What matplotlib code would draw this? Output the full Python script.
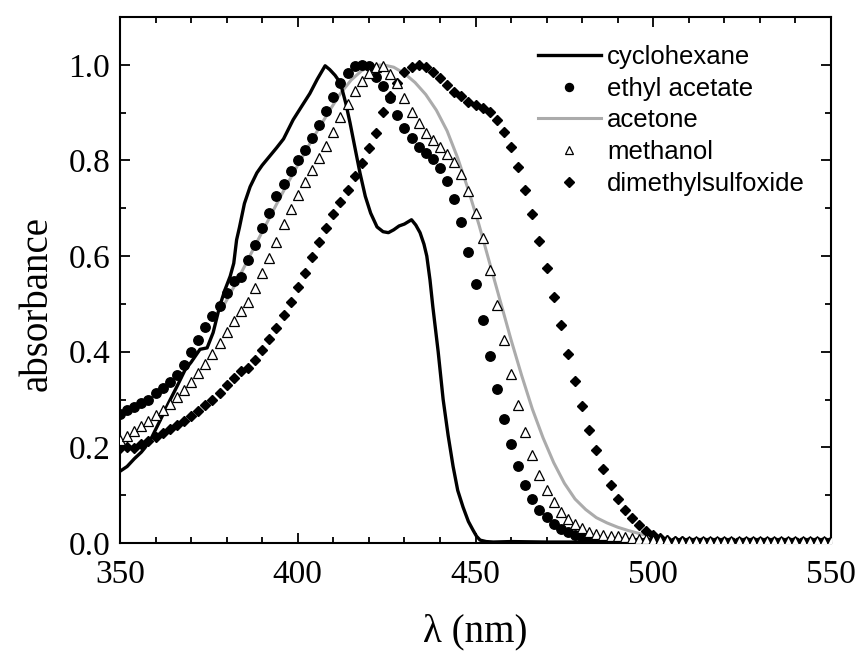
import numpy as np
import matplotlib
matplotlib.use("Agg")
import matplotlib.pyplot as plt
from matplotlib.ticker import MultipleLocator

# ---------------- data ----------------
wl = np.arange(350, 551, 2)

ethyl_acetate = [
    0.270, 0.278, 0.285, 0.292, 0.300, 0.313, 0.325, 0.336, 0.352, 0.372, 0.400, 0.425, 0.451,
    0.474, 0.496, 0.522, 0.548, 0.557, 0.592, 0.623, 0.658, 0.691, 0.725, 0.751, 0.777,
    0.800, 0.822, 0.848, 0.874, 0.904, 0.932, 0.962, 0.983, 0.998, 1.000, 0.998, 0.975, 0.955,
    0.930, 0.895, 0.868, 0.847, 0.829, 0.815, 0.803, 0.784, 0.758, 0.720, 0.672, 0.609,
    0.542, 0.467, 0.391, 0.323, 0.260, 0.206, 0.160, 0.122, 0.091, 0.070, 0.054, 0.040, 0.029,
    0.022, 0.017, 0.012, 0.008, 0.006, 0.005, 0.004, 0.004, 0.003, 0.003, 0.003, 0.003,
    0.003, 0.003, 0.002, 0.002, 0.002, 0.002, 0.002, 0.002, 0.002, 0.002, 0.002, 0.002, 0.002,
    0.002, 0.002, 0.002, 0.002, 0.002, 0.002, 0.002, 0.002, 0.002, 0.002, 0.002, 0.002, 0.002,
]

methanol = [
    0.215, 0.224, 0.234, 0.245, 0.256, 0.267, 0.278, 0.291, 0.305, 0.320, 0.337, 0.356, 0.375,
    0.395, 0.418, 0.442, 0.465, 0.485, 0.503, 0.533, 0.564, 0.597, 0.630, 0.667, 0.698,
    0.728, 0.754, 0.780, 0.805, 0.831, 0.860, 0.890, 0.918, 0.946, 0.967, 0.983, 0.995, 0.998,
    0.981, 0.962, 0.930, 0.902, 0.878, 0.858, 0.842, 0.828, 0.814, 0.796, 0.771, 0.737,
    0.691, 0.637, 0.570, 0.498, 0.425, 0.353, 0.289, 0.232, 0.184, 0.143, 0.111, 0.085, 0.065,
    0.051, 0.040, 0.031, 0.024, 0.019, 0.017, 0.015, 0.014, 0.012, 0.010, 0.009, 0.008,
    0.007, 0.006, 0.006, 0.005, 0.005, 0.005, 0.005, 0.005, 0.005, 0.005, 0.004, 0.004, 0.004,
    0.004, 0.004, 0.004, 0.004, 0.004, 0.004, 0.004, 0.004, 0.004, 0.004, 0.004, 0.004, 0.004,
]

dimethylsulfoxide = [
    0.198, 0.200, 0.199, 0.206, 0.214, 0.222, 0.230, 0.238, 0.247, 0.256, 0.266, 0.277, 0.288,
    0.300, 0.313, 0.330, 0.345, 0.360, 0.365, 0.382, 0.403, 0.427, 0.450, 0.477, 0.504,
    0.535, 0.564, 0.598, 0.629, 0.658, 0.689, 0.714, 0.739, 0.767, 0.794, 0.826, 0.857, 0.902,
    0.935, 0.963, 0.985, 0.996, 1.000, 0.996, 0.986, 0.972, 0.958, 0.944, 0.934, 0.923,
    0.916, 0.909, 0.901, 0.884, 0.860, 0.828, 0.787, 0.739, 0.688, 0.632, 0.575, 0.515, 0.455,
    0.396, 0.339, 0.287, 0.237, 0.194, 0.155, 0.122, 0.093, 0.070, 0.052, 0.037, 0.026,
    0.017, 0.011, 0.007, 0.005, 0.004, 0.003, 0.003, 0.003, 0.003, 0.003, 0.003, 0.003, 0.003,
    0.003, 0.003, 0.003, 0.003, 0.003, 0.003, 0.003, 0.003, 0.003, 0.003, 0.003, 0.003, 0.003,
]

cyclohexane_wl = [
    350, 352, 354, 356, 357, 359, 361, 363.6, 366, 368.3, 370, 372.5, 374.5, 376.2, 378,
    379.5, 381, 382, 382.8, 383.6, 385, 386.6, 388.5, 390, 392, 394, 396, 398.7, 401, 403.4,
    405.5, 407.7, 409, 410.5, 412, 413.5, 414.7, 416, 417.5, 419, 420.5, 422.3, 424, 425.5,
    427, 428.5, 430, 432, 433.2, 434.4, 435.5, 436.3, 437.2, 438, 439.5, 440.9, 442.3, 443.7,
    445, 446.5, 448, 449.3, 450.3, 451.3, 453, 455, 460, 470, 480, 500, 520, 550,
]
cyclohexane = [
    0.150, 0.160, 0.176, 0.190, 0.199, 0.222, 0.252, 0.292, 0.327, 0.362, 0.378, 0.405, 0.408,
    0.440, 0.494, 0.529, 0.558, 0.585, 0.634, 0.660, 0.710, 0.745, 0.774, 0.790, 0.808, 0.826,
    0.845, 0.885, 0.912, 0.940, 0.970, 0.998, 0.990, 0.978, 0.962, 0.920, 0.879, 0.830, 0.774,
    0.725, 0.690, 0.661, 0.651, 0.649, 0.655, 0.663, 0.667, 0.676, 0.665, 0.649, 0.625, 0.600,
    0.550, 0.494, 0.400, 0.300, 0.225, 0.160, 0.110, 0.075, 0.045, 0.027, 0.014, 0.006, 0.003,
    0.002, 0.003, 0.002, 0.002, 0.002, 0.002, 0.002,
]

acetone_wl = [
    379, 382, 385, 388, 391, 394, 397, 400, 403, 406, 409, 412, 415, 418, 421, 424, 427, 430,
    433, 436, 439, 442, 445, 448, 451, 454, 457, 460, 463, 466, 469, 472, 475, 478, 481, 484,
    487, 490, 493, 496, 497,
]
acetone = [
    0.494, 0.535, 0.578, 0.622, 0.665, 0.708, 0.750, 0.790, 0.830, 0.868, 0.905, 0.940, 0.968,
    0.988, 0.998, 1.000, 0.995, 0.982, 0.963, 0.938, 0.905, 0.862, 0.805, 0.738, 0.665, 0.585,
    0.505, 0.425, 0.350, 0.280, 0.220, 0.168, 0.125, 0.092, 0.070, 0.053, 0.042, 0.033, 0.026,
    0.020, 0.018,
]

labels = ["cyclohexane", "ethyl acetate", "acetone", "methanol", "dimethylsulfoxide"]

# ---------------- figure ----------------
serif = ["Liberation Serif", "DejaVu Serif"]
sans = ["Liberation Sans", "DejaVu Sans"]

fig = plt.figure(figsize=(8.57, 6.54), dpi=100)
ax = fig.add_axes([120 / 857, 1 - 543 / 654, (831 - 120) / 857, (543 - 17) / 654])

ax.plot(cyclohexane_wl, cyclohexane, color="black", lw=2.4, label=labels[0], zorder=3)
ax.plot(wl, ethyl_acetate, ls="none", marker="o", ms=6.8, color="black", label=labels[1], zorder=4)
ax.plot(acetone_wl, acetone, color="#ababab", lw=2.2, label=labels[2], zorder=2)
ax.plot(wl, methanol, ls="none", marker="^", ms=6.5, mfc="white", mec="black", mew=0.9,
        label=labels[3], zorder=5)
ax.plot(wl, dimethylsulfoxide, ls="none", marker="D", ms=5.6, color="black", label=labels[4], zorder=4)

ax.set_xlim(350, 550)
ax.set_ylim(0, 1.1)
ax.xaxis.set_major_locator(MultipleLocator(50))
ax.xaxis.set_minor_locator(MultipleLocator(10))
ax.yaxis.set_major_locator(MultipleLocator(0.2))
ax.yaxis.set_minor_locator(MultipleLocator(0.1))
ax.yaxis.set_major_formatter(matplotlib.ticker.FormatStrFormatter("%.1f"))

ax.tick_params(which="both", direction="in", top=True, right=True, width=1.3)
ax.tick_params(which="major", length=7, labelsize=24)
ax.tick_params(axis="x", which="major", pad=12)
ax.tick_params(axis="y", which="major", pad=7)
ax.tick_params(which="minor", length=4)
for lab in ax.get_xticklabels() + ax.get_yticklabels():
    lab.set_family(serif)
for s in ax.spines.values():
    s.set_linewidth(1.5)

ax.set_xlabel("λ (nm)", family=serif, fontsize=28)
ax.xaxis.set_label_coords(0.5, -0.133)
ax.set_ylabel("absorbance", family=serif, fontsize=28)
ax.yaxis.set_label_coords(-0.09, 0.456)

leg = ax.legend(loc="upper left", bbox_to_anchor=(538 / 857, 1 - 45 / 654),
                bbox_transform=fig.transFigure, frameon=False,
                prop={"family": sans, "size": 18.5}, handlelength=2.45, handletextpad=0.25,
                labelspacing=0.3, borderpad=0, borderaxespad=0, markerscale=0.85,
                numpoints=1)

fig.savefig("out.png", dpi=100)
